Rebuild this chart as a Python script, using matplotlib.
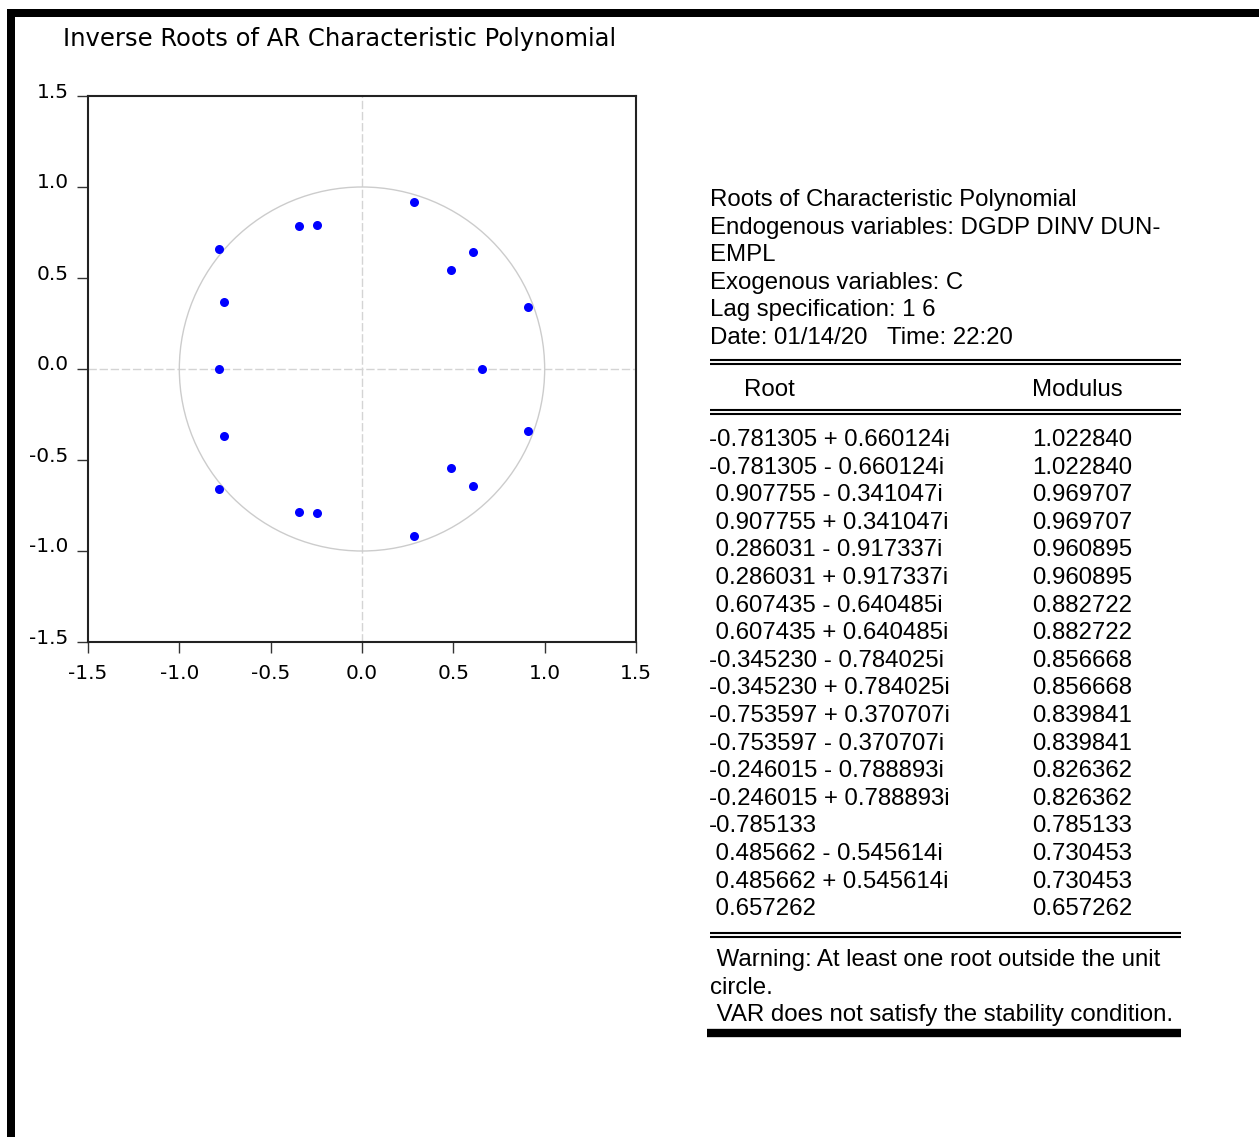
import matplotlib.pyplot as plt
from matplotlib.patches import Circle, Rectangle
from matplotlib.lines import Line2D
from matplotlib.transforms import ScaledTranslation

W, H = 1259, 1137

# inverse roots (real, imaginary) and modulus, in table order
real = [-0.781305, -0.781305, 0.907755, 0.907755, 0.286031, 0.286031,
        0.607435, 0.607435, -0.345230, -0.345230, -0.753597, -0.753597,
        -0.246015, -0.246015, -0.785133, 0.485662, 0.485662, 0.657262]
imag = [0.660124, -0.660124, -0.341047, 0.341047, -0.917337, 0.917337,
        -0.640485, 0.640485, -0.784025, 0.784025, 0.370707, -0.370707,
        -0.788893, 0.788893, 0.0, -0.545614, 0.545614, 0.0]
modulus = [1.022840, 1.022840, 0.969707, 0.969707, 0.960895, 0.960895,
           0.882722, 0.882722, 0.856668, 0.856668, 0.839841, 0.839841,
           0.826362, 0.826362, 0.785133, 0.730453, 0.730453, 0.657262]

ticks = [-1.5, -1.0, -0.5, 0.0, 0.5, 1.0, 1.5]

header_lines = [
    "Roots of Characteristic Polynomial",
    "Endogenous variables: DGDP DINV DUN-",
    "EMPL",
    "Exogenous variables: C",
    "Lag specification: 1 6",
    "Date: 01/14/20   Time: 22:20",
]
warning_lines = [
    " Warning: At least one root outside the unit",
    "circle.",
    " VAR does not satisfy the stability condition.",
]


def fx(px):
    return px / W


def fy(py):
    return 1 - py / H


def root_str(re, im):
    s = f"{re:.6f}"
    if re >= 0:
        s = " " + s
    if im > 0:
        s += f" + {im:.6f}i"
    elif im < 0:
        s += f" - {-im:.6f}i"
    return s


fig = plt.figure(figsize=(W / 100, H / 100), dpi=100)
fig.patch.set_facecolor('white')

# black frame on top and left
fig.patches.append(Rectangle((fx(7), fy(17)), fx(W - 7), 8 / H, transform=fig.transFigure,
                             color='black', lw=0))
fig.patches.append(Rectangle((fx(7), 0), 8 / W, fy(9), transform=fig.transFigure,
                             color='black', lw=0))

fig.text(fx(63), fy(39), "Inverse Roots of AR Characteristic Polynomial",
         fontsize=17.5, family='DejaVu Sans', va='center', ha='left')

ax = fig.add_axes([fx(88), fy(642), (636 - 88) / W, (642 - 96) / H])
ax.set_xlim(-1.5, 1.5)
ax.set_ylim(-1.5, 1.5)
ax.axhline(0, color='#d4d4d4', lw=1, ls=(0, (6, 2)), zorder=1)
ax.axvline(0, color='#d4d4d4', lw=1, ls=(0, (6, 2)), zorder=1)
ax.add_patch(Circle((0, 0), 1.0, fill=False, ec='#cccccc', lw=1, zorder=1))
ax.plot(real, imag, 'o', color='#0000ff', ms=6.5, mec='none', zorder=3)

ax.set_xticks(ticks)
ax.set_yticks(ticks)
ax.set_xticklabels([f"{t:.1f}" for t in ticks], family='DejaVu Sans', fontsize=14.5)
ax.set_yticklabels([f"{t:.1f}" for t in ticks], family='DejaVu Sans', fontsize=14.5)
ax.tick_params(axis='both', direction='out', length=8, width=1, color='#333333')
ax.tick_params(axis='x', pad=8)
ax.tick_params(axis='y', pad=6)
up = ScaledTranslation(0, 4 / 100, fig.dpi_scale_trans)
for lab in ax.get_yticklabels():
    lab.set_verticalalignment('center')
    lab.set_transform(lab.get_transform() + up)
for sp in ax.spines.values():
    sp.set_linewidth(1.5)
    sp.set_color('#222222')

# table on the right
tfont = dict(family='Liberation Sans', fontsize=17.3, va='center', ha='left')
for i, line in enumerate(header_lines):
    fig.text(fx(710), fy(200 + i * 27.6), line, **tfont)


def hline(y, lw=1.5, x0=710, x1=1181):
    fig.add_artist(Line2D([fx(x0), fx(x1)], [fy(y), fy(y)], transform=fig.transFigure,
                          color='black', lw=lw, solid_capstyle='butt'))


hline(360)
hline(364)
fig.text(fx(744), fy(390), "Root", **tfont)
fig.text(fx(1032), fy(390), "Modulus", **tfont)
hline(410)
hline(414)

for i in range(len(real)):
    y = 440 + i * 27.6
    fig.text(fx(709), fy(y), root_str(real[i], imag[i]), **tfont)
    fig.text(fx(1032), fy(y), f"{modulus[i]:.6f}", **tfont)

hline(933)
hline(937)
for i, line in enumerate(warning_lines):
    fig.text(fx(710), fy(960 + i * 27.6), line, **tfont)
hline(1033, lw=6, x0=707)

fig.savefig('out.png', dpi=100)
